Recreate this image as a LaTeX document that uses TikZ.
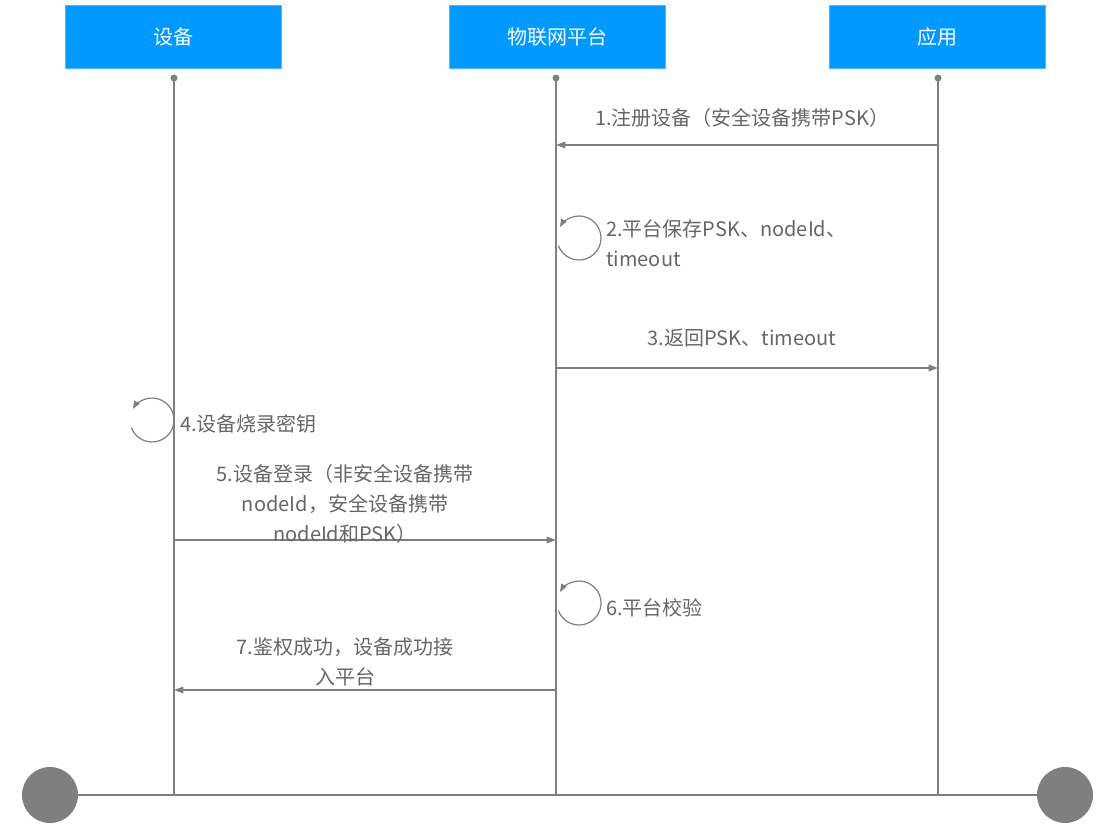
\documentclass[tikz,border=0pt]{standalone}
\usepackage{fontspec}
\setmainfont{Noto Sans CJK SC}
\usetikzlibrary{arrows.meta}
\definecolor{hdr}{HTML}{0099FF}
\definecolor{ln}{HTML}{7F7F7F}
\definecolor{tx}{HTML}{666666}
\begin{document}
\begin{tikzpicture}[x=0.75pt,y=-0.75pt,
  hbox/.style={fill=hdr,draw=hdr!70!white,minimum width=162pt,minimum height=47pt,text=white,font=\fontsize{15}{18}\selectfont},
  life/.style={draw=ln,line width=1.5pt},
  msg/.style={draw=ln,line width=0.9pt,-{Triangle[length=7pt,width=5pt]}},
  lbl/.style={text=tx,font=\fontsize{15}{22.5}\selectfont,inner sep=0pt,align=center},
  loop/.style={draw=ln,line width=0.9pt,-{Triangle[length=6pt,width=4.5pt]}}]
\useasboundingbox (0,0) rectangle (1116,833);
\node[hbox] (A) at (173.5,36.5) {设备};
\node[hbox] (B) at (557,36.5) {物联网平台};
\node[hbox] (C) at (937.5,36.5) {应用};
\foreach \n/\x in {a/174,b/556,c/938}{
  \coordinate (\n0) at (\x,78); \coordinate (\n1) at (\x,795);
  \draw[life] (\n0) -- (\n1);
  \fill[ln] (\n0) circle (3.5);
}
\coordinate (L) at (50,795); \coordinate (R) at (1065,795);
\draw[draw=ln,line width=2pt] (L) -- (R);
\fill[ln] (L) circle (28); \fill[ln] (R) circle (28);
% 1
\coordinate (m1s) at (938,145); \coordinate (m1e) at (556,145);
\draw[msg] (m1s) -- (m1e);
\node[lbl] (t1) at (742,118) {1.注册设备（安全设备携带PSK）};
% 2
\draw[loop] (579,238) ++(160:22) arc[start angle=160,end angle=-150,radius=22];
\node[lbl,anchor=west,align=left] (t2) at (606,243) {2.平台保存PSK、nodeId、\\timeout};
% 3
\coordinate (m3s) at (556,368); \coordinate (m3e) at (938,368);
\draw[msg] (m3s) -- (m3e);
\node[lbl] (t3) at (742,338) {3.返回PSK、timeout};
% 4
\draw[loop] (152,420) ++(160:22) arc[start angle=160,end angle=-150,radius=22];
\node[lbl,anchor=west] (t4) at (180,424) {4.设备烧录密钥};
% 5
\coordinate (m5s) at (174,540); \coordinate (m5e) at (556,540);
\draw[msg] (m5s) -- (m5e);
\node[lbl] (t5) at (345,504) {5.设备登录（非安全设备携带\\nodeId，安全设备携带\\nodeId和PSK）};
% 6
\draw[loop] (579,603) ++(160:22) arc[start angle=160,end angle=-150,radius=22];
\node[lbl,anchor=west] (t6) at (606,608) {6.平台校验};
% 7
\coordinate (m7s) at (556,690); \coordinate (m7e) at (174,690);
\draw[msg] (m7s) -- (m7e);
\node[lbl] (t7) at (345,662) {7.鉴权成功，设备成功接\\入平台};
\end{tikzpicture}
\end{document}
